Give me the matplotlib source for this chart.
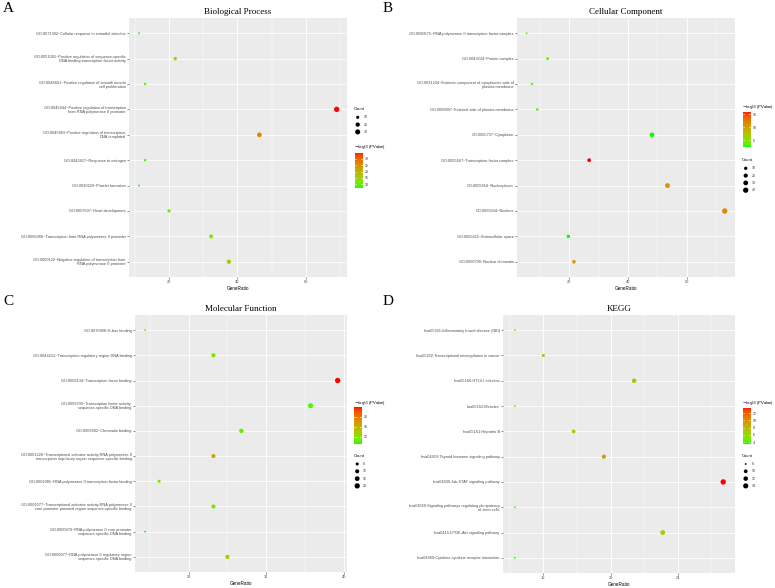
import matplotlib
matplotlib.use("Agg")
import matplotlib.pyplot as plt
import numpy as np
from matplotlib.colors import ListedColormap

# ---------------- data ----------------
bp_terms = [
    "GO:0071392~Cellular response to estradiol stimulus",
    "GO:0051091~Positive regulation of sequence-specific\nDNA binding transcription factor activity",
    "GO:0048661~Positive regulation of smooth muscle\ncell proliferation",
    "GO:0045944~Positive regulation of transcription\nfrom RNA polymerase II promoter",
    "GO:0045893~Positive regulation of transcription,\nDNA-templated",
    "GO:0043627~Response to estrogen",
    "GO:0030220~Platelet formation",
    "GO:0007507~Heart development",
    "GO:0006366~Transcription from RNA polymerase II promoter",
    "GO:0000122~Negative regulation of transcription from\nRNA polymerase II promoter",
]
bp_ratio = [11.2, 21.8, 13.0, 69.0, 46.4, 13.0, 11.2, 20.0, 32.3, 37.5]
bp_count = [6, 12, 7, 35, 24, 7, 6, 11, 17, 20]
bp_logp = [7.0, 14.0, 9.0, 34.5, 26.0, 8.0, 6.8, 10.5, 13.0, 15.0]

cc_terms = [
    "GO:0090575~RNA polymerase II transcription factor complex",
    "GO:0043234~Protein complex",
    "GO:0031234~Extrinsic component of cytoplasmic side of\nplasma membrane",
    "GO:0009897~External side of plasma membrane",
    "GO:0005737~Cytoplasm",
    "GO:0005667~Transcription factor complex",
    "GO:0005654~Nucleoplasm",
    "GO:0005634~Nucleus",
    "GO:0005615~Extracellular space",
    "GO:0000790~Nuclear chromatin",
]
cc_ratio = [5.5, 12.6, 7.3, 9.1, 48.2, 26.8, 53.5, 73.0, 19.7, 21.6]
cc_count = [3, 7, 4, 5, 28, 15, 31, 42, 11, 12]
cc_logp = [3.5, 4.0, 3.5, 3.8, 2.7, 15.9, 11.0, 11.2, 2.6, 11.0]

mf_terms = [
    "GO:0070888~E-box binding",
    "GO:0044212~Transcription regulatory region DNA binding",
    "GO:0008134~Transcription factor binding",
    "GO:0003700~Transcription factor activity,\nsequence-specific DNA binding",
    "GO:0003682~Chromatin binding",
    "GO:0001228~Transcriptional activator activity,RNA polymerase II\ntranscription regulatory region sequence-specific binding",
    "GO:0001085~RNA polymerase II transcription factor binding",
    "GO:0001077~Transcriptional activator activity,RNA polymerase II\ncore promoter proximal region sequence-specific binding",
    "GO:0000978~RNA polymerase II core promoter\nsequence-specific DNA binding",
    "GO:0000977~RNA polymerase II regulatory region\nsequence-specific DNA binding",
]
mf_ratio = [14.4, 23.2, 39.2, 35.7, 26.8, 23.2, 16.2, 23.2, 14.4, 25.0]
mf_count = [6, 12, 21, 19, 14, 12, 8, 12, 6, 13]
mf_logp = [10.5, 11.5, 23.7, 10.0, 10.5, 17.0, 12.0, 11.0, 9.1, 13.5]

kegg_terms = [
    "hsa05321:Inflammatory bowel disease (IBD)",
    "hsa05202:Transcriptional misregulation in cancer",
    "hsa05166:HTLV-I infection",
    "hsa05162:Measles",
    "hsa05161:Hepatitis B",
    "hsa04919:Thyroid hormone signaling pathway",
    "hsa04630:Jak-STAT signaling pathway",
    "hsa04550:Signaling pathways regulating pluripotency\nof stem cells",
    "hsa04151:PI3K-Akt signaling pathway",
    "hsa04060:Cytokine-cytokine receptor interaction",
]
kegg_ratio = [14.3, 16.0, 21.4, 14.3, 17.8, 19.6, 26.7, 14.3, 23.1, 14.3]
kegg_count = [8, 9, 12, 8, 10, 11, 15, 8, 13, 8]
kegg_logp = [5.5, 6.0, 7.0, 5.5, 6.5, 9.5, 13.5, 4.0, 6.5, 3.5]

W, H = 775, 588
fig = plt.figure(figsize=(W / 100, H / 100), dpi=100)
SANS = "Liberation Sans"
SERIF = "Liberation Serif"


# ggplot-like green -> red gradient interpolated in Lab space
def to_lab(rgb):
    c = np.asarray(rgb, float)
    lin = np.where(c <= 0.04045, c / 12.92, ((c + 0.055) / 1.055) ** 2.4)
    M = np.array([[0.4124, 0.3576, 0.1805], [0.2126, 0.7152, 0.0722], [0.0193, 0.1192, 0.9505]])
    xyz = M @ lin / np.array([0.95047, 1.0, 1.08883])
    f = np.where(xyz > 0.008856, np.cbrt(xyz), 7.787 * xyz + 16 / 116)
    return np.array([116 * f[1] - 16, 500 * (f[0] - f[1]), 200 * (f[1] - f[2])])


def from_lab(lab):
    L, a, b = lab
    fy = (L + 16) / 116
    f = np.array([fy + a / 500, fy, fy - b / 200])
    xyz = np.where(f > 0.2069, f ** 3, (f - 16 / 116) / 7.787) * np.array([0.95047, 1.0, 1.08883])
    Mi = np.array([[3.2406, -1.5372, -0.4986], [-0.9689, 1.8758, 0.0415], [0.0557, -0.2040, 1.0570]])
    lin = np.clip(Mi @ xyz, 0, 1)
    c = np.where(lin <= 0.0031308, 12.92 * lin, 1.055 * lin ** (1 / 2.4) - 0.055)
    return np.clip(c, 0, 1)


lab_lo, lab_hi = to_lab([0, 1, 0]), to_lab([1, 0, 0])
cmap = ListedColormap([from_lab(lab_lo + t * (lab_hi - lab_lo)) for t in np.linspace(0, 1, 256)])


def px_rect(left, top, right, bottom):
    return [left / W, 1 - bottom / H, (right - left) / W, (bottom - top) / H]


def dot_size(c, cmin, cmax):
    d = 1.8 + np.sqrt((np.asarray(c, float) - cmin) / (cmax - cmin)) * 3.6  # diameter in px
    return (d * 0.72) ** 2


def panel(box, title, terms, ratio, count, logp, xlim, xticks, cticks, sticks, leg):
    ax = fig.add_axes(px_rect(*box))
    ax.set_facecolor("#EBEBEB")
    n = len(terms)
    ypos = np.arange(n)[::-1] + 1
    cmin, cmax = min(count), max(count)
    vmin, vmax = min(logp), max(logp)
    ax.scatter(ratio, ypos, s=dot_size(count, cmin, cmax), c=logp, cmap=cmap,
               vmin=vmin, vmax=vmax, linewidths=0, zorder=3)
    ax.set_xlim(*xlim)
    ax.set_ylim(0.4, n + 0.6)
    ax.set_xticks(xticks)
    step = xticks[1] - xticks[0]
    minors = np.arange(xticks[0] - step / 2, xlim[1], step)
    ax.set_xticks([m for m in minors if xlim[0] < m < xlim[1]], minor=True)
    ax.set_yticks(ypos)
    ax.set_yticklabels(terms, fontsize=2.8, family=SANS, color="#4D4D4D", linespacing=1.0)
    ax.set_xticklabels([str(t) for t in xticks], fontsize=2.8, family=SANS, color="#4D4D4D")
    ax.tick_params(axis="both", which="major", length=1.5, width=0.4, color="#333333", pad=0.8)
    ax.tick_params(axis="x", which="minor", length=0)
    ax.grid(True, which="major", color="white", lw=0.6)
    ax.grid(True, which="minor", axis="x", color="white", lw=0.3)
    ax.set_axisbelow(True)
    for s in ax.spines.values():
        s.set_visible(False)
    ax.set_xlabel("GeneRatio", fontsize=3.3, family=SANS, labelpad=1)
    ax.set_title(title, fontsize=6.5, family=SERIF, pad=3)

    # colour bar legend
    x0 = leg["x"]
    fig.text(x0 / W, 1 - leg["cb_title"] / H, r"$-\log_{10}$(PValue)", fontsize=3.0,
             family=SANS, va="center", ha="left")
    cax = fig.add_axes(px_rect(x0 + 0.5, leg["cb_top"], x0 + 8.5, leg["cb_bot"]))
    grad = np.linspace(vmin, vmax, 200).reshape(-1, 1)
    cax.imshow(grad, cmap=cmap, aspect="auto", origin="lower", interpolation="bilinear",
               extent=[0, 1, vmin, vmax], vmin=vmin, vmax=vmax)
    cax.set_xticks([])
    cax.yaxis.tick_right()
    cax.set_yticks(cticks)
    cax.set_yticklabels([str(t) for t in cticks], fontsize=2.5, family=SANS, color="#333333")
    cax.tick_params(axis="y", length=0, pad=1.5)
    for t in cticks:
        cax.plot([0, 0.2], [t, t], color="white", lw=0.4)
        cax.plot([0.8, 1], [t, t], color="white", lw=0.4)
    cax.set_xlim(0, 1)
    cax.set_ylim(vmin, vmax)
    for s in cax.spines.values():
        s.set_visible(False)

    # size legend
    fig.text(x0 / W, 1 - leg["cnt_title"] / H, "Count", fontsize=3.0, family=SANS,
             va="center", ha="left")
    lax = fig.add_axes([0, 0, 1, 1], facecolor="none")
    lax.set_xlim(0, W)
    lax.set_ylim(H, 0)
    lax.axis("off")
    ys = leg["cnt_y0"] + 7.3 * np.arange(len(sticks))
    lax.scatter([x0 + 3.7] * len(sticks), ys, s=dot_size(sticks, cmin, cmax),
                color="black", linewidths=0)
    for yy, t in zip(ys, sticks):
        lax.text(x0 + 9.5, yy, str(t), fontsize=2.5, family=SANS, va="center",
                 ha="left", color="#333333")
    return ax


panel((129, 18, 347, 277), "Biological Process", bp_terms, bp_ratio, bp_count, bp_logp,
      (8.3, 72.0), [20, 40, 60], [10, 15, 20, 25, 30], [10, 20, 30],
      dict(x=354, cb_title=146.7, cb_top=153.3, cb_bot=188.3, cnt_title=109, cnt_y0=117.3))
panel((517, 18, 735, 277), "Cellular Component", cc_terms, cc_ratio, cc_count, cc_logp,
      (2.2, 76.5), [20, 40, 60], [5, 10, 15], [10, 20, 30, 40],
      dict(x=742, cb_title=107.3, cb_top=111.7, cb_bot=146.7, cnt_title=160.3, cnt_y0=168.3))
panel((135, 315, 347, 572), "Molecular Function", mf_terms, mf_ratio, mf_count, mf_logp,
      (13.1, 40.4), [20, 30, 40], [12, 16, 20], [8, 12, 16, 20],
      dict(x=353.5, cb_title=403.3, cb_top=407.3, cb_bot=444, cnt_title=455.7, cnt_y0=464))
panel((503, 315, 735, 573), "KEGG", kegg_terms, kegg_ratio, kegg_count, kegg_logp,
      (13.6, 27.4), [16, 20, 24], [4, 6, 8, 10, 12], [8, 10, 12, 14],
      dict(x=742, cb_title=403.3, cb_top=407.7, cb_bot=444, cnt_title=455.7, cnt_y0=464))

for lab, x, y in [("A", 3, 2), ("B", 383, 2), ("C", 3, 295), ("D", 383, 295)]:
    fig.text(x / W, 1 - y / H, lab, fontsize=11, family=SERIF, va="top", ha="left")

fig.savefig("out.png", dpi=100)
